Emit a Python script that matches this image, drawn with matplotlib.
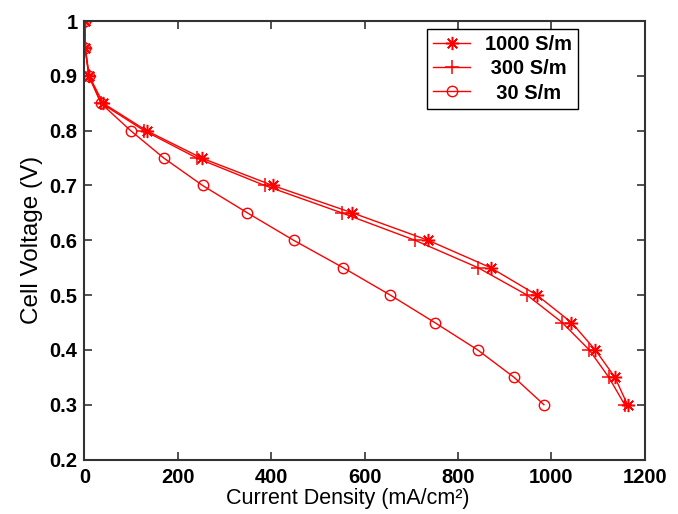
import matplotlib.pyplot as plt

plt.rcParams['font.family'] = ['Liberation Sans', 'DejaVu Sans']

voltage = [1.0, 0.95, 0.9, 0.85, 0.8, 0.75, 0.7, 0.65, 0.6, 0.55, 0.5, 0.45, 0.4, 0.35, 0.3]
current_1000 = [1, 2, 10, 40, 133, 251, 403, 574, 736, 870, 969, 1043, 1094, 1136, 1163]
current_300 = [1, 2, 9, 36, 128, 241, 386, 551, 708, 843, 948, 1023, 1081, 1123, 1157]
current_30 = [1, 1, 10, 35, 99, 170, 253, 349, 448, 554, 655, 750, 842, 920, 984]

labels = ['1000 S/m', ' 300 S/m', '  30 S/m']

fig = plt.figure(figsize=(6.78, 5.14), dpi=100)
ax = fig.add_axes([0.1246, 0.106, 0.8264, 0.853])

red = '#ff0000'
# MATLAB style asterisk: + and x combined
ax.plot(current_1000, voltage, color=red, marker=(8, 2, 0), markersize=9.5, markeredgewidth=1.1,
        linewidth=1, label=labels[0])
ax.plot(current_300, voltage, color=red, marker='+', markersize=10, markeredgewidth=1.1, linewidth=1,
        label=labels[1])
ax.plot(current_30, voltage, color=red, marker='o', markersize=7.5, markerfacecolor='none',
        markeredgewidth=1, linewidth=1, label=labels[2])

ax.set_xlim(0, 1200)
ax.set_ylim(0.2, 1.0)
ax.set_xticks(range(0, 1201, 200))
ax.set_yticks([0.2, 0.3, 0.4, 0.5, 0.6, 0.7, 0.8, 0.9, 1.0])
ax.set_yticklabels(['0.2', '0.3', '0.4', '0.5', '0.6', '0.7', '0.8', '0.9', '1'])
ax.tick_params(direction='in', length=6, width=1.2, top=True, right=True, labelsize=14.5,
               colors='#333333', labelcolor='black')
ax.tick_params(axis='x', pad=6)
ax.tick_params(axis='y', pad=5)
for lab in ax.get_xticklabels() + ax.get_yticklabels():
    lab.set_fontweight('bold')
for s in ax.spines.values():
    s.set_linewidth(1.5)
    s.set_color('#333333')

ax.set_xlabel('Current Density (mA/cm²)', fontsize=15.5)
ax.xaxis.set_label_coords(0.47, -0.066)
ax.set_ylabel('Cell Voltage (V)', fontsize=17.5, labelpad=5)

leg = ax.legend(loc='upper right', bbox_to_anchor=(0.88, 0.981), borderaxespad=0, fontsize=14.5,
                fancybox=False, edgecolor='black', framealpha=1, borderpad=0.3, handlelength=1.85,
                labelspacing=0.25, handletextpad=0.7)
leg.get_frame().set_linewidth(1)
for t in leg.get_texts():
    t.set_fontweight('bold')

fig.savefig('out.png', dpi=100)
